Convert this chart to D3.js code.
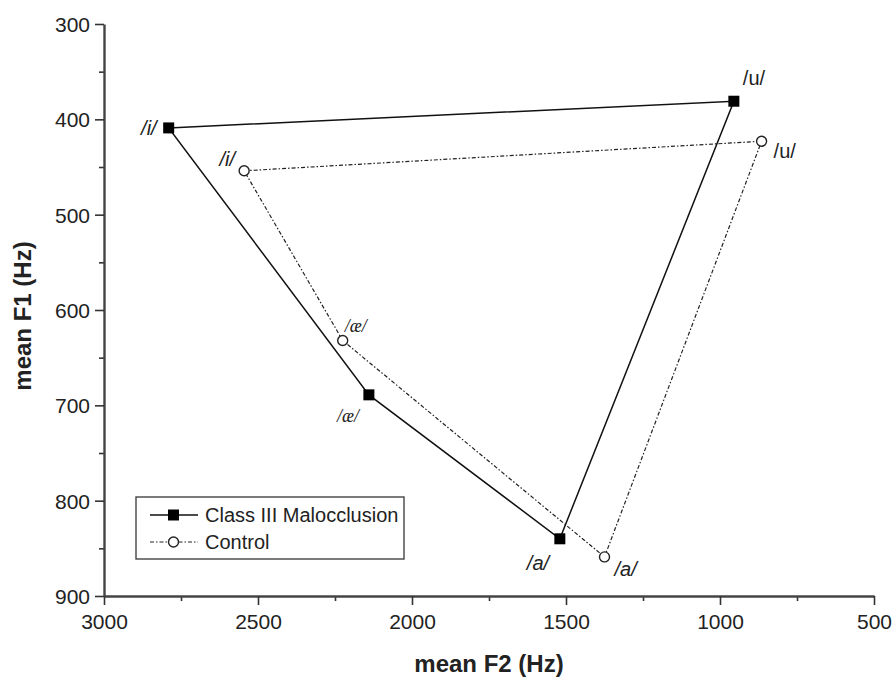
<!DOCTYPE html>
<html>
<head>
<meta charset="utf-8">
<script src="https://cdn.jsdelivr.net/npm/d3@7"></script>
<style>
body { margin: 0; background: #fff; }
text { font-family: Arial, "Liberation Sans", sans-serif; fill: #222; }
</style>
</head>
<body>
<svg></svg>
<script>
// vowel order: /i/, /u/, /a/, /ae/ - closed polygon i -> u -> a -> ae -> i
var vowels = ["/i/", "/u/", "/a/", "/æ/"];
var classF2 = [2790, 955, 1520, 2140];
var classF1 = [409, 381, 840, 689];
var controlF2 = [2545, 865, 1375, 2225];
var controlF1 = [454, 423, 859, 632];
var xTicks = [3000, 2500, 2000, 1500, 1000, 500];
var yTicks = [300, 400, 500, 600, 700, 800, 900];

var svgWidth = 893, svgHeight = 680;
var plotLeft = 104, plotRight = 874, plotTop = 24, plotBottom = 596;

var svg = d3.select('svg')
    .attr("width", svgWidth)
    .attr("height", svgHeight);

var x = d3.scaleLinear().domain([3000, 500]).range([plotLeft, plotRight]);
var y = d3.scaleLinear().domain([300, 900]).range([plotTop, plotBottom]);

// minor ticks first (no labels)
svg.append("g")
    .attr("transform", "translate(0," + plotBottom + ")")
    .call(d3.axisBottom(x).tickValues(d3.range(2750, 500, -500)).tickSize(5).tickFormat(""))
    .call(function (g) { g.select(".domain").remove(); });
svg.append("g")
    .attr("transform", "translate(" + plotLeft + ",0)")
    .call(d3.axisLeft(y).tickValues(d3.range(350, 900, 100)).tickSize(5).tickFormat(""))
    .call(function (g) { g.select(".domain").remove(); });

var xAxis = svg.append("g")
    .attr("transform", "translate(0," + plotBottom + ")")
    .call(d3.axisBottom(x).tickValues(xTicks).tickSize(9).tickSizeOuter(0).tickPadding(6).tickFormat(d3.format("d")));
var yAxis = svg.append("g")
    .attr("transform", "translate(" + plotLeft + ",0)")
    .call(d3.axisLeft(y).tickValues(yTicks).tickSize(9).tickSizeOuter(0).tickPadding(5).tickFormat(d3.format("d")));

svg.selectAll(".tick line").attr("stroke", "#333").attr("stroke-width", 1.6);
svg.selectAll(".domain").attr("stroke", "#444").attr("stroke-width", 2.4);
svg.selectAll(".tick text").style("font-size", "21px").attr("fill", "#2a2a2a");
xAxis.selectAll(".tick text").attr("dy", "0.85em");
yAxis.selectAll(".tick text").attr("dy", "0.36em");

svg.append("text")
    .attr("x", 489).attr("y", 672)
    .attr("text-anchor", "middle")
    .style("font-size", "24px").style("font-weight", "bold")
    .text("mean F2 (Hz)");
svg.append("text")
    .attr("transform", "translate(31,316) rotate(-90)")
    .attr("text-anchor", "middle")
    .style("font-size", "24px").style("font-weight", "bold")
    .text("mean F1 (Hz)");

function poly(f2, f1) {
    return f2.map(function (d, i) { return [x(d), y(f1[i])]; });
}
var line = d3.line().curve(d3.curveLinearClosed);

svg.append("path")
    .attr("d", line(poly(controlF2, controlF1)))
    .attr("fill", "none").attr("stroke", "#222").attr("stroke-width", 1.2)
    .attr("stroke-dasharray", "4,2,1.5,2");
svg.append("path")
    .attr("d", line(poly(classF2, classF1)))
    .attr("fill", "none").attr("stroke", "#111").attr("stroke-width", 1.5);

svg.selectAll("circle.ctrl")
    .data(controlF2)
    .enter()
    .append("circle")
    .attr("class", "ctrl")
    .attr("cx", function (d) { return x(d); })
    .attr("cy", function (d, i) { return y(controlF1[i]); })
    .attr("r", 5)
    .attr("fill", "#fff").attr("stroke", "#222").attr("stroke-width", 1.4);

svg.selectAll("rect.cls")
    .data(classF2)
    .enter()
    .append("rect")
    .attr("class", "cls")
    .attr("x", function (d) { return x(d) - 5.5; })
    .attr("y", function (d, i) { return y(classF1[i]) - 5.5; })
    .attr("width", 11).attr("height", 11)
    .attr("fill", "#000");

// vowel labels: offsets from each point [dx, dy, anchor, size, italic, serif]
var classLabelPos = [[-12, 7, "end", 20, true, false], [9, -16, "start", 20, false, false], [-33, 31, "start", 20, true, false], [-32, 27, "start", 18, true, true]];
var controlLabelPos = [[-9, -5, "end", 20, true, false], [12, 17, "start", 20, false, false], [10, 19, "start", 20, true, false], [2, -9, "start", 18, true, true]];

function addLabels(f2, f1, pos) {
    svg.selectAll(null)
        .data(vowels)
        .enter()
        .append("text")
        .attr("x", function (d, i) { return x(f2[i]) + pos[i][0]; })
        .attr("y", function (d, i) { return y(f1[i]) + pos[i][1]; })
        .attr("text-anchor", function (d, i) { return pos[i][2]; })
        .style("font-size", function (d, i) { return pos[i][3] + "px"; })
        .style("font-style", function (d, i) { return pos[i][4] ? "italic" : "normal"; })
        .style("font-family", function (d, i) { return pos[i][5] ? "'Liberation Serif', 'DejaVu Serif', serif" : null; })
        .text(function (d) { return d; });
}
addLabels(classF2, classF1, classLabelPos);
addLabels(controlF2, controlF1, controlLabelPos);

// legend
var legend = svg.append("g").attr("transform", "translate(136,497)");
legend.append("rect")
    .attr("width", 268).attr("height", 62)
    .attr("fill", "#fff").attr("stroke", "#444").attr("stroke-width", 1.4);
legend.append("line").attr("x1", 14).attr("x2", 62).attr("y1", 18).attr("y2", 18)
    .attr("stroke", "#111").attr("stroke-width", 1.5);
legend.append("rect").attr("x", 32).attr("y", 12.5).attr("width", 11).attr("height", 11).attr("fill", "#000");
legend.append("line").attr("x1", 14).attr("x2", 62).attr("y1", 45).attr("y2", 45)
    .attr("stroke", "#222").attr("stroke-width", 1.2).attr("stroke-dasharray", "4,2,1.5,2");
legend.append("circle").attr("cx", 37.5).attr("cy", 45).attr("r", 5)
    .attr("fill", "#fff").attr("stroke", "#222").attr("stroke-width", 1.4);
legend.append("text").attr("x", 69).attr("y", 25).style("font-size", "20px").text("Class III Malocclusion");
legend.append("text").attr("x", 69).attr("y", 52).style("font-size", "20px").text("Control");
</script>
</body>
</html>
